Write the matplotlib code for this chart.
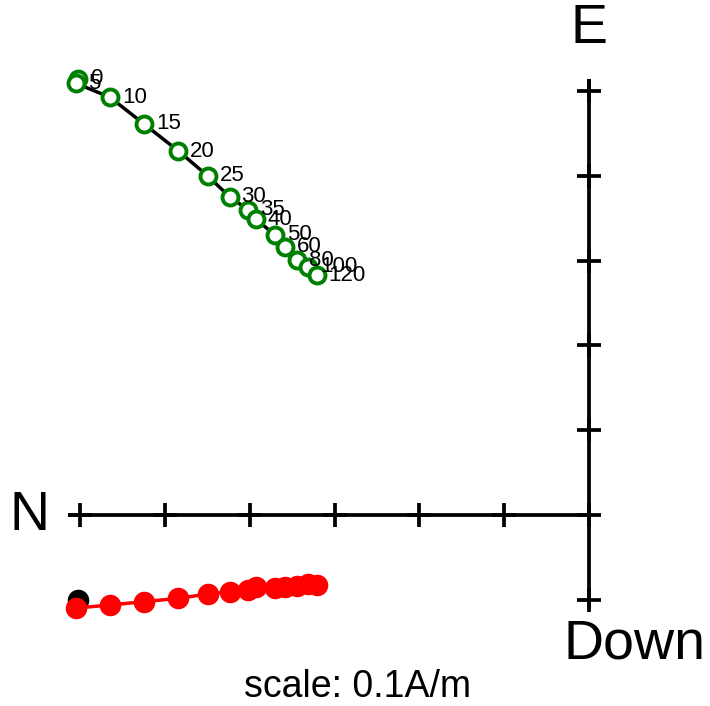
import matplotlib
matplotlib.use("Agg")
import matplotlib.pyplot as plt
import numpy as np

plt.rcParams['font.family'] = ['Liberation Sans', 'DejaVu Sans']

steps = [0, 5, 10, 15, 20, 25, 30, 35, 40, 50, 60, 80, 100, 120]
north = [0.6022, 0.6050, 0.5649, 0.5248, 0.4841, 0.4496, 0.4239, 0.4018,
         0.3927, 0.3703, 0.3585, 0.3438, 0.3308, 0.3211]
east = [0.5142, 0.5091, 0.4926, 0.4611, 0.4292, 0.3998, 0.3754, 0.3597,
        0.3487, 0.3302, 0.3164, 0.3007, 0.2925, 0.2830]
down = [0.1002, 0.1097, 0.1061, 0.1022, 0.0982, 0.0932, 0.0904, 0.0879,
        0.0849, 0.0861, 0.0846, 0.0837, 0.0808, 0.0825]
tick_step = 0.1
scale_label = "scale: 0.1A/m"

N = np.array(north)
E = np.array(east)
D = np.array(down)

fig = plt.figure(figsize=(7.10, 7.06), dpi=100)
ax = fig.add_axes([0, 0, 1, 1])
ax.set_xlim(-0.6946, 0.1427)
ax.set_ylim(-0.2252, 0.6073)
ax.set_aspect('equal', adjustable='datalim')
ax.axis('off')

# axes lines
xmin = -N.max() - 0.009
ax.plot([xmin, 0], [0, 0], color='black', lw=2.7, zorder=1, solid_capstyle='butt')
ax.plot([0, 0], [-D.max(), E.max()], color='black', lw=2.7, zorder=1, solid_capstyle='butt')

# ticks
nt = int(np.floor(N.max() / tick_step + 1e-6))
tx = -np.arange(0, nt + 1) * tick_step
ax.plot(tx, np.zeros_like(tx), linestyle='none', marker='+', color='black',
        markersize=17, markeredgewidth=2.7, zorder=1)
et = int(np.floor(E.max() / tick_step + 1e-6))
dt = int(np.floor(D.max() / tick_step + 1e-6))
ty = np.concatenate([np.arange(1, et + 1) * tick_step, -np.arange(1, dt + 1) * tick_step])
ax.plot(np.zeros_like(ty), ty, linestyle='none', marker='+', color='black',
        markersize=17, markeredgewidth=2.7, zorder=1)

# horizontal projection (green open circles, black line)
ax.plot(-N, E, color='black', lw=2.5, zorder=2)
ax.plot(-N, E, linestyle='none', marker='o', markersize=11.5, markerfacecolor='white',
        markeredgecolor='green', markeredgewidth=2.8, zorder=3)

# vertical projection (red filled)
ax.plot(-N[:1], -D[:1], linestyle='none', marker='o', markersize=14.5, color='black', zorder=3)
ax.plot(-N[1:], -D[1:], color='red', lw=2.5, zorder=4, marker='o', markersize=14.5,
        markerfacecolor='red', markeredgecolor='red')

# step labels
for s, x, y in zip(steps, -N, E):
    ax.annotate(str(s), (x, y), xytext=(8.5, 0), textcoords='offset points',
                ha='left', va='center', fontsize=16, color='black', zorder=5)

# axis labels
ax.text(xmin - 0.022, -0.001, 'N', ha='right', va='center', fontsize=40)
ax.text(0, E.max() + 0.028, 'E', ha='center', va='bottom', fontsize=40)
ax.text(0.054, -D.max() - 0.043, 'Down', ha='center', va='center', fontsize=40)
ax.text(-0.273, -0.2032, scale_label, ha='center', va='center', fontsize=27)

fig.savefig('out.png', dpi=100)
